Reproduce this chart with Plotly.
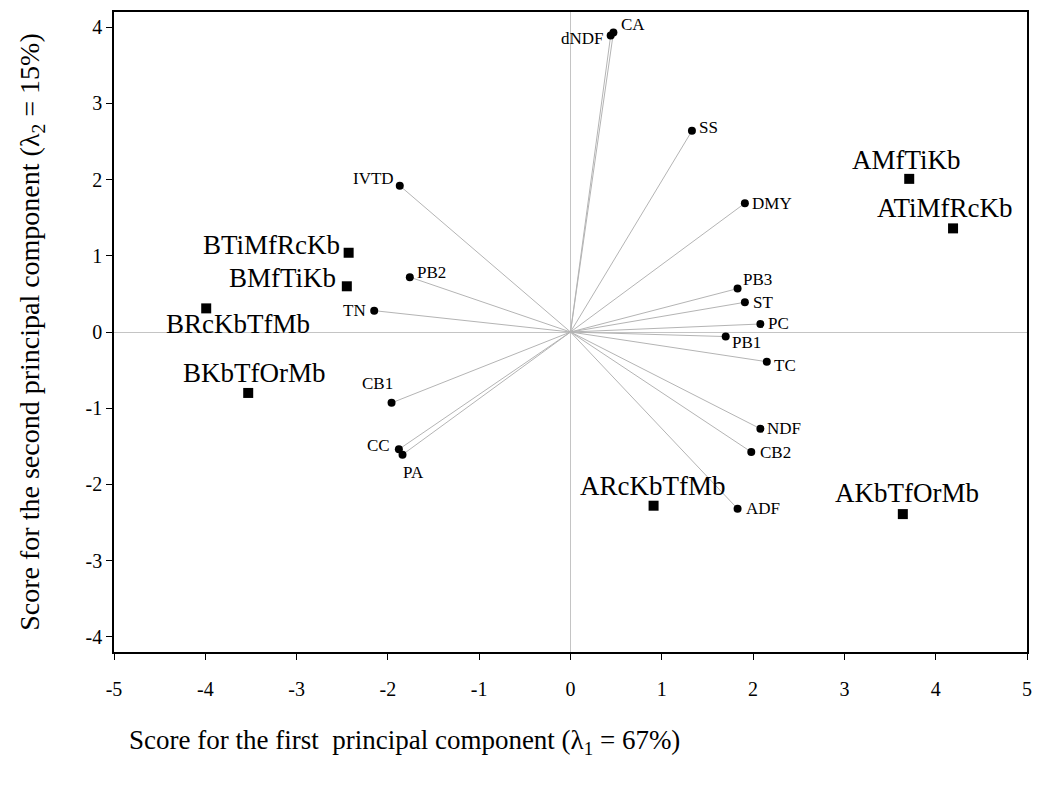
import plotly.graph_objects as go

# Variable loadings (circles)
var_names = ["CA", "dNDF", "SS", "IVTD", "PB2", "TN", "DMY", "PB3", "ST", "PC",
             "PB1", "TC", "NDF", "CB2", "ADF", "CB1", "CC", "PA"]
var_x = [0.47, 0.44, 1.33, -1.87, -1.76, -2.15, 1.91, 1.83, 1.91, 2.08,
         1.70, 2.15, 2.08, 1.98, 1.83, -1.96, -1.88, -1.84]
var_y = [3.93, 3.89, 2.64, 1.92, 0.72, 0.28, 1.69, 0.57, 0.39, 0.105,
         -0.06, -0.39, -1.27, -1.575, -2.32, -0.93, -1.54, -1.61]

# Treatment scores (squares)
trt_names = ["AMfTiKb", "ATiMfRcKb", "BTiMfRcKb", "BMfTiKb", "BRcKbTfMb",
             "BKbTfOrMb", "ARcKbTfMb", "AKbTfOrMb"]
trt_x = [3.71, 4.19, -2.43, -2.45, -3.99, -3.53, 0.91, 3.64]
trt_y = [2.01, 1.36, 1.04, 0.60, 0.31, -0.80, -2.28, -2.39]

x_ticks = [-5, -4, -3, -2, -1, 0, 1, 2, 3, 4, 5]
x_tick_labels = ["-5", "-4", "-3", "-2", "-1", "0", "1", "2", "3", "4", "5"]
y_ticks = [-4, -3, -2, -1, 0, 1, 2, 3, 4]
y_tick_labels = ["-4", "-3", "-2", "-1", "0", "1", "2", "3", "4"]

# label placement (anchor, xshift px, yshift px)
var_lab = {
    "CA": ("left", 6, 8), "dNDF": ("right", -5, -3), "SS": ("left", 5, 3),
    "IVTD": ("right", -4, 7), "PB2": ("left", 5, 5), "TN": ("right", -6, 0),
    "DMY": ("left", 5, 0), "PB3": ("left", 3, 9), "ST": ("left", 6, 0),
    "PC": ("left", 6, 1), "PB1": ("left", 4, -6), "TC": ("left", 5, -4),
    "NDF": ("left", 5, 0), "CB2": ("left", 7, 0), "ADF": ("left", 6, 0),
    "CB1": ("center", -14, 19), "CC": ("right", -7, 4), "PA": ("center", 11, -18),
}
trt_lab = {
    "AMfTiKb": ("center", -3, 19), "ATiMfRcKb": ("center", -8, 20),
    "BTiMfRcKb": ("right", -7, 8), "BMfTiKb": ("right", -9, 8),
    "BRcKbTfMb": ("center", 32, -16), "BKbTfOrMb": ("center", 6, 20),
    "ARcKbTfMb": ("center", -1, 20), "AKbTfOrMb": ("center", 4, 21),
}

FONT = "Liberation Serif, Times New Roman, serif"

fig = go.Figure()

# vectors from origin
lx, ly = [], []
for x, y in zip(var_x, var_y):
    lx += [0, x, None]
    ly += [0, y, None]
fig.add_trace(go.Scatter(x=lx, y=ly, mode="lines",
                         line=dict(color="#b4b4b4", width=1), hoverinfo="skip"))

fig.add_trace(go.Scatter(x=var_x, y=var_y, mode="markers",
                         marker=dict(symbol="circle", size=8, color="black"),
                         text=var_names))
fig.add_trace(go.Scatter(x=trt_x, y=trt_y, mode="markers",
                         marker=dict(symbol="square", size=10, color="black"),
                         text=trt_names))

annotations = []
for n, x, y in zip(var_names, var_x, var_y):
    a, dx, dy = var_lab[n]
    annotations.append(dict(x=x, y=y, text=n, showarrow=False, xanchor=a,
                            yanchor="middle", xshift=dx, yshift=dy,
                            font=dict(family=FONT, size=17, color="black")))
for n, x, y in zip(trt_names, trt_x, trt_y):
    a, dx, dy = trt_lab[n]
    annotations.append(dict(x=x, y=y, text=n, showarrow=False, xanchor=a,
                            yanchor="middle", xshift=dx, yshift=dy,
                            font=dict(family=FONT, size=27, color="black")))

annotations.append(dict(xref="paper", yref="paper", x=0.014, y=-0.141,
                        xanchor="left", yanchor="middle", showarrow=False,
                        text="Score for the first  principal component (λ<sub>1</sub> = 67%)",
                        font=dict(family=FONT, size=27, color="black")))

fig.update_layout(
    width=1039, height=790,
    margin=dict(l=114, r=12, t=12, b=138),
    plot_bgcolor="white", paper_bgcolor="white",
    showlegend=False,
    annotations=annotations,
    font=dict(family=FONT, color="black"),
)
fig.update_xaxes(range=[-5, 5], tickvals=x_ticks, ticktext=x_tick_labels,
                 ticks="outside", ticklen=6, automargin=False,
                 tickcolor="black", showline=True, linecolor="black", linewidth=1.5,
                 mirror=True, showgrid=False, zeroline=True, zerolinecolor="#c4c4c4",
                 zerolinewidth=1, tickfont=dict(family=FONT, size=20),
                 ticklabelstandoff=12)
fig.update_yaxes(range=[-4.2, 4.2], tickvals=y_ticks, ticktext=y_tick_labels,
                 ticks="outside", ticklen=6, automargin=False,
                 tickcolor="black", showline=True, linecolor="black", linewidth=1.5,
                 mirror=True, showgrid=False, zeroline=True, zerolinecolor="#c4c4c4",
                 zerolinewidth=1, tickfont=dict(family=FONT, size=20),
                 title=dict(text="Score for the second principal component (λ<sub>2</sub> = 15%)",
                            font=dict(family=FONT, size=28), standoff=38))

fig.write_html("out.html", config={"displayModeBar": False},
               post_script="document.body.style.margin='0';")
